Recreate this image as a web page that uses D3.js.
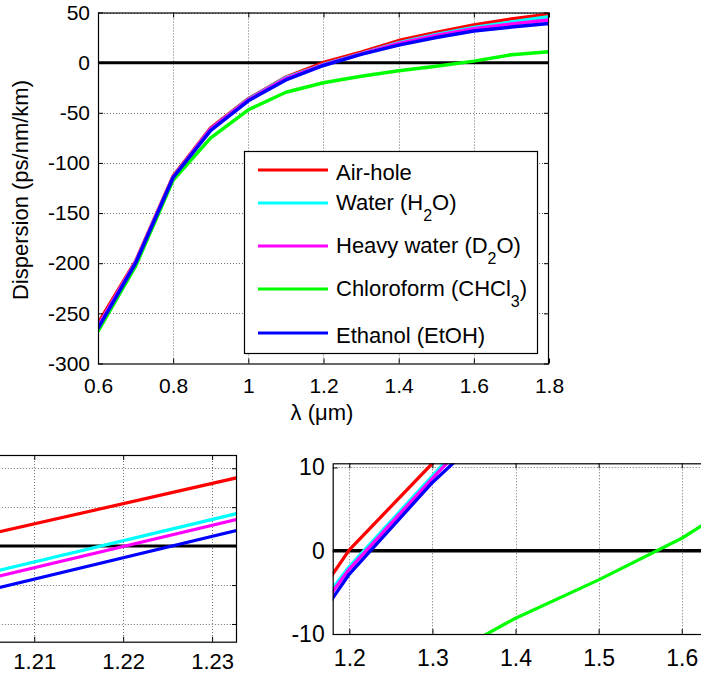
<!DOCTYPE html>
<html>
<head>
<meta charset="utf-8">
<script src="https://cdn.jsdelivr.net/npm/d3@7"></script>
<style>
  body { margin: 0; background: #fff; }
  svg { display: block; }
  text { font-family: "Liberation Sans", Arial, Helvetica, sans-serif; fill: #000; }
</style>
</head>
<body>
<svg id="chart" width="701" height="674"></svg>
<script>
// Wavelength samples (µm)
const wavelength = [0.6, 0.7, 0.8, 0.9, 1.0, 1.1, 1.2, 1.3, 1.4, 1.5, 1.6, 1.7, 1.8];

// Dispersion (ps/nm/km) for each filling of the holes
const airHole    = [-260, -198, -113, -65, -36.0, -14.4,  0.1, 10.5, 22.0, 30.0, 37.5, 43.5, 48.3];
const water      = [-263, -199, -114, -66, -36.5, -14.9, -1.9,  9.0, 19.9, 28.0, 35.0, 40.5, 45.8];
const heavyWater = [-263, -199, -114, -66, -37.0, -15.7, -2.2,  8.7, 19.2, 27.0, 33.7, 38.5, 42.5];
const chloroform = [-268, -203, -117, -75, -47.0, -29.5, -20.0, -13.6, -8.1, -3.5, 1.5,  7.8, 10.9];
const ethanol    = [-265, -200, -114.5, -67.5, -38.0, -17.3, -2.8, 8.2, 17.5, 25.0, 31.5, 35.5, 39.0];

const seriesValues = [airHole, water, heavyWater, chloroform, ethanol];
const seriesColors = ["#ff0000", "#00ffff", "#ff00ff", "#00ff00", "#0000ff"];
// Legend labels: odd-indexed pieces are subscripts
const seriesLabels = [
  ["Air-hole"],
  ["Water (H", "2", "O)"],
  ["Heavy water (D", "2", "O)"],
  ["Chloroform (CHCl", "3", ")"],
  ["Ethanol (EtOH)"]
];

// Tick values
const mainXTicks  = [0.6, 0.8, 1, 1.2, 1.4, 1.6, 1.8];
const mainYTicks  = [-300, -250, -200, -150, -100, -50, 0, 50];
const zoomAXTicks = [1.21, 1.22, 1.23];
const zoomAYTicks = [-4, -2, 0, 2, 4];
const zoomBXTicks = [1.2, 1.3, 1.4, 1.5, 1.6];
const zoomBYTicks = [-10, 0, 10];

const svg = d3.select("#chart");
const fmt = d => String(+d.toFixed(4)); // plain hyphen minus, trimmed decimals

let clipId = 0;

function panel(opt) {
  const x = d3.scaleLinear().domain(opt.xDomain).range([opt.left, opt.right]);
  const y = d3.scaleLinear().domain(opt.yDomain).range([opt.bottom, opt.top]);
  const w = opt.right - opt.left, h = opt.bottom - opt.top;
  const g = svg.append("g");
  const id = "clip" + (clipId++);
  g.append("clipPath").attr("id", id)
    .append("rect").attr("x", opt.left).attr("y", opt.top).attr("width", w).attr("height", h);

  // dotted grid
  const grid = g.append("g").attr("stroke", "#6f6f6f").attr("stroke-width", 1)
    .attr("stroke-dasharray", "1,2").attr("clip-path", `url(#${id})`);
  grid.selectAll("line.gx").data(opt.xTicks).join("line")
    .attr("x1", d => Math.round(x(d)) + 0.5).attr("x2", d => Math.round(x(d)) + 0.5)
    .attr("y1", opt.top).attr("y2", opt.bottom);
  grid.selectAll("line.gy").data(opt.yTicks).join("line")
    .attr("y1", d => Math.round(y(d)) + 0.5).attr("y2", d => Math.round(y(d)) + 0.5)
    .attr("x1", opt.left).attr("x2", opt.right);

  // zero-dispersion reference
  g.append("line").attr("clip-path", `url(#${id})`)
    .attr("x1", opt.left).attr("x2", opt.right)
    .attr("y1", y(0)).attr("y2", y(0))
    .attr("stroke", "#000").attr("stroke-width", opt.zeroWidth);

  // curves
  const line = d3.line().x((d, i) => x(wavelength[i])).y(d => y(d));
  g.append("g").attr("clip-path", `url(#${id})`)
    .selectAll("path").data(seriesValues).join("path")
    .attr("d", d => line(d))
    .attr("fill", "none")
    .attr("stroke", (d, i) => seriesColors[i])
    .attr("stroke-width", opt.lineWidth)
    .attr("stroke-linejoin", "round");

  // axes with inward ticks on all four sides
  const tick = 5;
  const axB = g.append("g").attr("transform", `translate(0,${opt.bottom})`)
    .call(d3.axisBottom(x).tickValues(opt.xTicks).tickSizeInner(-tick).tickSizeOuter(0)
      .tickPadding(opt.xPad).tickFormat(fmt));
  const axL = g.append("g").attr("transform", `translate(${opt.left},0)`)
    .call(d3.axisLeft(y).tickValues(opt.yTicks).tickSizeInner(-tick).tickSizeOuter(0)
      .tickPadding(opt.yPad).tickFormat(opt.yLabels ? fmt : ""));
  const axT = g.append("g").attr("transform", `translate(0,${opt.top})`)
    .call(d3.axisTop(x).tickValues(opt.xTicks).tickSizeInner(-tick).tickSizeOuter(0).tickFormat(""));
  const axR = g.append("g").attr("transform", `translate(${opt.right},0)`)
    .call(d3.axisRight(y).tickValues(opt.yTicks).tickSizeInner(-tick).tickSizeOuter(0).tickFormat(""));
  [axB, axL, axT, axR].forEach(a => {
    a.select(".domain").remove();
    a.selectAll("line").attr("stroke", "#000");
    a.selectAll("text").style("font-size", opt.fontSize + "px")
      .style("font-family", '"Liberation Sans", Arial, sans-serif').attr("fill", "#000");
  });
  if (!opt.yLabels) axL.selectAll("text").remove();

  g.append("rect").attr("x", opt.left + 0.5).attr("y", opt.top + 0.5)
    .attr("width", w - 1).attr("height", h)
    .attr("fill", "none").attr("stroke", "#000").attr("stroke-width", 1.2);
  return { x, y, g };
}

// Main dispersion plot
panel({
  left: 98, right: 549, top: 12.5, bottom: 363.5,
  xDomain: [0.6, 1.8], yDomain: [-300, 50],
  xTicks: mainXTicks, yTicks: mainYTicks, yLabels: true,
  fontSize: 21, xPad: 15, yPad: 8, lineWidth: 3.5, zeroWidth: 3
});

// Close-up around the zero crossings (left; its y axis lies beyond the page edge)
panel({
  left: -10.2, right: 237, top: 455, bottom: 641.7,
  xDomain: [1.205, 1.2328], yDomain: [-4.91, 4.68],
  xTicks: zoomAXTicks, yTicks: zoomAYTicks, yLabels: false,
  fontSize: 22, xPad: 12, yPad: 8, lineWidth: 3.2, zeroWidth: 3
});

// Close-up around the zero crossings (right)
panel({
  left: 332.7, right: 723.3, top: 463.3, bottom: 634,
  xDomain: [1.18, 1.65], yDomain: [-10, 10.5],
  xTicks: zoomBXTicks, yTicks: zoomBYTicks, yLabels: true,
  fontSize: 23, xPad: 16, yPad: 8, lineWidth: 3.3, zeroWidth: 3.5
});

// Axis titles of the main plot
svg.append("text")
  .attr("transform", "translate(28,190) rotate(-90)")
  .attr("text-anchor", "middle").style("font-size", "22px")
  .text("Dispersion (ps/nm/km)");
svg.append("text")
  .attr("x", 322).attr("y", 420)
  .attr("text-anchor", "middle").style("font-size", "22px")
  .text("λ (μm)");

// Legend
const lg = svg.append("g");
lg.append("rect").attr("x", 244.5).attr("y", 151.5).attr("width", 293).attr("height", 202)
  .attr("fill", "#fff").attr("stroke", "#000").attr("stroke-width", 1.2);
let rowTop = 153;
seriesLabels.forEach((parts, i) => {
  const hasSub = parts.length > 1;
  const rowH = hasSub ? 43 : 34;
  const cy = rowTop + (hasSub ? 16 : 17);
  lg.append("line").attr("x1", 258).attr("x2", 328).attr("y1", cy).attr("y2", cy)
    .attr("stroke", seriesColors[i]).attr("stroke-width", 3);
  const t = lg.append("text").attr("x", 336).attr("y", cy + (hasSub ? 6.5 : 10))
    .style("font-size", "22px");
  parts.forEach((p, k) => {
    if (k % 2 === 1) {
      t.append("tspan").attr("dy", 11).style("font-size", "16px").text(p);
    } else {
      t.append("tspan").attr("dy", k === 0 ? 0 : -11).text(p);
    }
  });
  rowTop += rowH;
});
</script>
</body>
</html>
